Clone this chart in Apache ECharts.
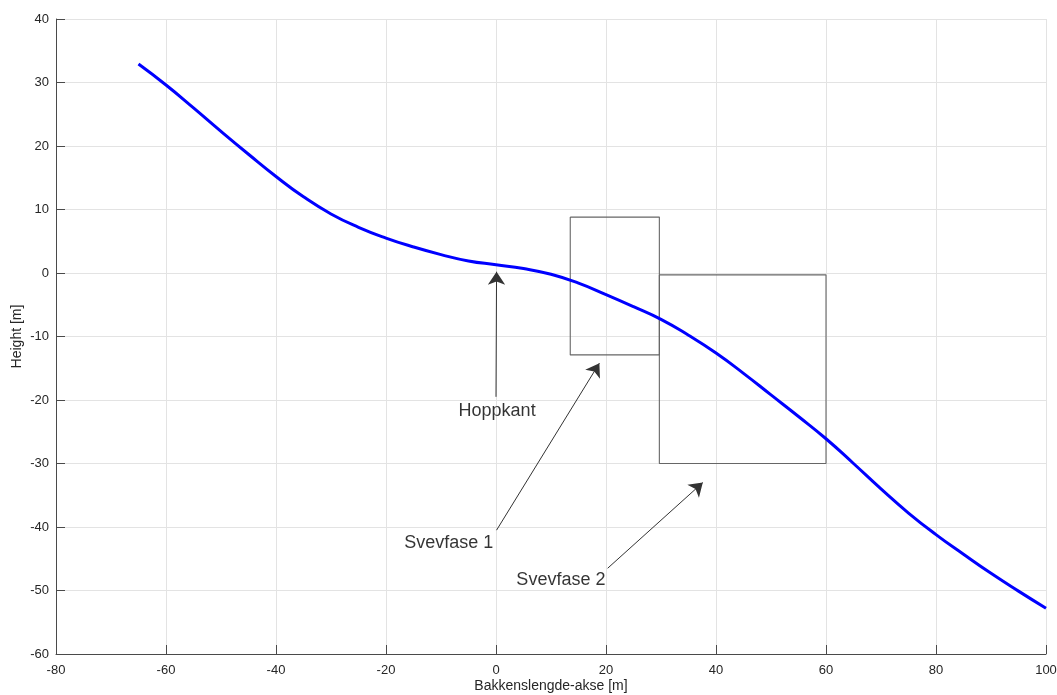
<!DOCTYPE html>
<html>
<head>
<meta charset="utf-8">
<script src="https://cdn.jsdelivr.net/npm/echarts@6/dist/echarts.min.js"></script>
<style>html,body{margin:0;padding:0;background:#fff;}#c{width:1057px;height:695px;}</style>
</head>
<body>
<div id="c"></div>
<script>
// Hill profile (x in m, height in m)
const profileX = [-65,-60,-55,-50,-45,-40,-35,-30,-25,-20,-15,-10,-5,0,5,10,15,20,25,30,35,40,45,50,55,60,65,70,75,80,85,90,95,100];
const profileY = [32.9,29.6,26.0,22.3,18.7,15.2,12.0,9.3,7.2,5.5,4.1,2.9,1.9,1.3,0.7,-0.2,-1.6,-3.4,-5.3,-7.3,-9.8,-12.6,-15.8,-19.2,-22.6,-26.1,-30.0,-34.0,-37.8,-41.2,-44.3,-47.3,-50.1,-52.8];

// Rectangles: [xmin, xmax, ymin, ymax]
const box1 = [13.5, 29.7, -12.9, 8.8];
const box2 = [29.7, 60.0, -30.0, -0.3];

// Arrows: tail -> tip
const arrowTails = [[0.0, -19.5], [0.1, -40.5], [20.3, -46.5]];
const arrowTips  = [[0.1, 0.2], [18.8, -14.2], [37.6, -33.0]];

// Annotation labels
const labelTexts = ['Hoppkant', 'Svevfase 1', 'Svevfase 2'];
const labelX = [0.2, -8.6, 11.8];
const labelY = [-21.8, -42.5, -48.3];

// Axis settings
const xMin = -80, xMax = 100, xStep = 20;
const yMin = -60, yMax = 40, yStep = 10;
const xTitle = 'Bakkenslengde-akse [m]';
const yTitle = 'Height [m]';

function rect(b){
  return [[b[0],b[3]],[b[1],b[3]],[b[1],b[2]],[b[0],b[2]],[b[0],b[3]]];
}

const font = 'Helvetica, "Liberation Sans", Arial, sans-serif';
const axisColor = '#4a4a4a';

const chart = echarts.init(document.getElementById('c'), null, {renderer:'canvas'});
chart.setOption({
  animation: false,
  backgroundColor: '#fff',
  grid: {left: 56, right: 11, top: 19, bottom: 41, containLabel: false, outerBoundsMode: 'none'},
  xAxis: {
    type: 'value', min: xMin, max: xMax, interval: xStep,
    name: xTitle, nameLocation: 'middle', nameGap: 25, nameMoveOverlap: false,
    nameTextStyle: {fontFamily: font, fontSize: 14, color: '#262626'},
    axisLine: {show: true, onZero: false, lineStyle: {color: axisColor, width: 1}},
    axisTick: {show: true, inside: true, length: 9, lineStyle: {color: axisColor}},
    axisLabel: {fontFamily: font, fontSize: 13, color: '#262626', margin: 10},
    splitLine: {show: true, lineStyle: {color: '#e3e3e3', width: 1}}
  },
  yAxis: {
    type: 'value', min: yMin, max: yMax, interval: yStep,
    name: yTitle, nameLocation: 'middle', nameGap: 32, nameMoveOverlap: false,
    nameTextStyle: {fontFamily: font, fontSize: 14, color: '#262626'},
    axisLine: {show: true, onZero: false, lineStyle: {color: axisColor, width: 1}},
    axisTick: {show: true, inside: true, length: 9, lineStyle: {color: axisColor}},
    axisLabel: {fontFamily: font, fontSize: 13, color: '#262626', margin: 7},
    splitLine: {show: true, lineStyle: {color: '#e3e3e3', width: 1}}
  },
  series: [
    {
      type: 'line', data: rect(box1), showSymbol: false, symbol: 'none',
      lineStyle: {color: '#666', width: 1.1}, z: 3
    },
    {
      type: 'line', data: rect(box2), showSymbol: false, symbol: 'none',
      lineStyle: {color: '#666', width: 1.1}, z: 3
    },
    {
      type: 'line', data: profileX.map((x,i)=>[x, profileY[i]]),
      smooth: 0.5, showSymbol: false, symbol: 'none',
      lineStyle: {color: '#0000ff', width: 3}, z: 4
    },
    {
      type: 'lines', coordinateSystem: 'cartesian2d',
      symbol: ['none', 'arrow'], symbolSize: [1, 13],
      lineStyle: {color: '#333', width: 1, opacity: 1},
      itemStyle: {color: '#000'},
      data: arrowTails.map((t,i)=>({coords: [t, arrowTips[i]]})), z: 5
    },
    {
      type: 'scatter', symbolSize: 0,
      data: labelTexts.map((t,i)=>({name: t, value: [labelX[i], labelY[i]]})),
      label: {show: true, position: 'inside', formatter: '{b}', fontFamily: font, fontSize: 18, color: '#000', align: 'center', verticalAlign: 'middle'},
      z: 6
    }
  ]
});
</script>
</body>
</html>
